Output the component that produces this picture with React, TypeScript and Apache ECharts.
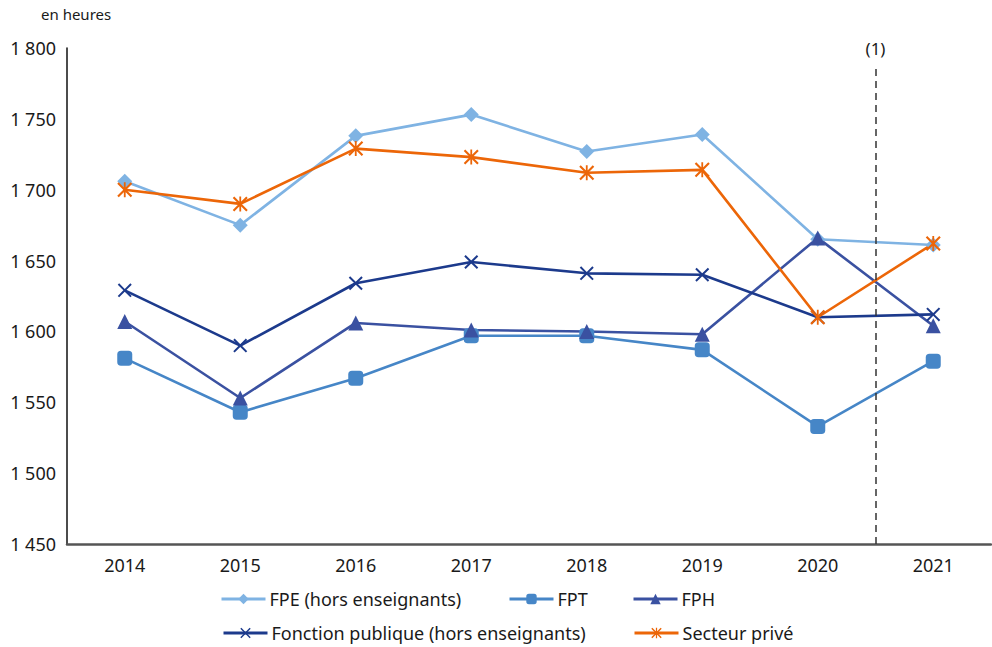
import React, { useEffect, useRef } from "react";
import * as echarts from "echarts";

const years = ["2014", "2015", "2016", "2017", "2018", "2019", "2020", "2021"];
const fpe = [1706, 1675, 1738, 1753, 1727, 1739, 1665, 1661];
const fpt = [1581, 1543, 1567, 1597, 1597, 1587, 1533, 1579];
const fph = [1607, 1553, 1606, 1601, 1600, 1598, 1666, 1604];
const fonctionPublique = [1629, 1590, 1634, 1649, 1641, 1640, 1610, 1612];
const secteurPrive = [1700, 1690, 1729, 1723, 1712, 1714, 1610, 1662];

const seriesNames = [
  "FPE (hors enseignants)",
  "FPT",
  "FPH",
  "Fonction publique (hors enseignants)",
  "Secteur privé",
];

const X_PATH = "path://M2,0 L10,8 L18,0 L20,2 L12,10 L20,18 L18,20 L10,12 L2,20 L0,18 L8,10 L0,2 Z";
const STAR_PATH =
  "path://M2,0 L10,8 L18,0 L20,2 L12,10 L20,18 L18,20 L10,12 L2,20 L0,18 L8,10 L0,2 Z M8.8,0 L11.2,0 L11.2,20 L8.8,20 Z";

const FONT = "Noto Sans";

export default function App() {
  const ref = useRef<HTMLDivElement>(null);
  useEffect(() => {
    if (!ref.current) return;
    const chart = echarts.init(ref.current, null, { renderer: "svg" });
    const mk = (name: string, data: number[], color: string, symbol: string, size: number) => ({
      name,
      type: "line",
      data,
      symbol,
      symbolSize: size,
      lineStyle: { color, width: 2.6 },
      itemStyle: { color },
      z: 3,
    });
    const legendPos = [
      [220, 590],
      [508, 590],
      [632, 590],
      [222, 624],
      [633, 624],
    ];
    const legends = seriesNames.map((n, i) => ({
      data: [n],
      left: legendPos[i][0],
      top: legendPos[i][1],
      itemWidth: 44,
      itemHeight: 13,
      itemGap: 6,
      padding: 0,
      lineStyle: { width: 3 },
      textStyle: { fontSize: 18, color: "#1a1a1a", fontFamily: FONT, padding: [0, 0, 0, -1] },
    }));
    chart.setOption({
      animation: false,
      textStyle: { fontFamily: FONT },
      grid: { left: 67, right: 1, top: 48, bottom: 103, containLabel: false },
      graphic: [
        {
          type: "text",
          left: 41,
          top: 6,
          style: { text: "en heures", fontSize: 15, fill: "#1a1a1a", fontFamily: FONT },
        },
      ],
      legend: legends,
      xAxis: [
        {
          type: "category",
          data: years,
          boundaryGap: true,
          axisLine: { lineStyle: { color: "#555", width: 2.5 } },
          axisTick: { show: false },
          axisLabel: { fontSize: 18, color: "#1a1a1a", margin: 12, fontFamily: FONT },
        },
        {
          type: "value",
          min: -0.5,
          max: 7.5,
          show: false,
        },
      ],
      yAxis: {
        type: "value",
        min: 1450,
        max: 1800,
        interval: 50,
        axisLine: { show: true, onZero: false, lineStyle: { color: "#111", width: 1.5 } },
        axisTick: { show: false },
        splitLine: { show: false },
        axisLabel: {
          fontSize: 18,
          color: "#1a1a1a",
          margin: 11,
          fontFamily: FONT,
          formatter: (v: number) => {
            const s = String(v);
            return s.length > 3 ? s.slice(0, s.length - 3) + " " + s.slice(-3) : s;
          },
        },
      },
      series: [
        {
          name: "_marker",
          type: "line",
          xAxisIndex: 1,
          data: [],
          silent: true,
          markLine: {
            symbol: "none",
            silent: true,
            lineStyle: { color: "#333", type: [7, 5], width: 1.5 },
            label: {
              show: true,
              position: "end",
              formatter: "(1)",
              fontSize: 17,
              color: "#1a1a1a",
              distance: 8,
              fontFamily: FONT,
            },
            data: [[{ coord: [6.5, 1450] }, { coord: [6.5, 1788] }]],
          },
        },
        mk(seriesNames[0], fpe, "#7fb3e3", "diamond", 15),
        mk(seriesNames[1], fpt, "#4686c7", "roundRect", 15),
        mk(seriesNames[2], fph, "#3a51a1", "triangle", 15),
        mk(seriesNames[3], fonctionPublique, "#1c3a8c", X_PATH, 14),
        mk(seriesNames[4], secteurPrive, "#ec6608", STAR_PATH, 15),
      ],
    });
    return () => chart.dispose();
  }, []);
  return <div ref={ref} style={{ width: 992, height: 647, position: "absolute", left: 0, top: 0 }} />;
}
